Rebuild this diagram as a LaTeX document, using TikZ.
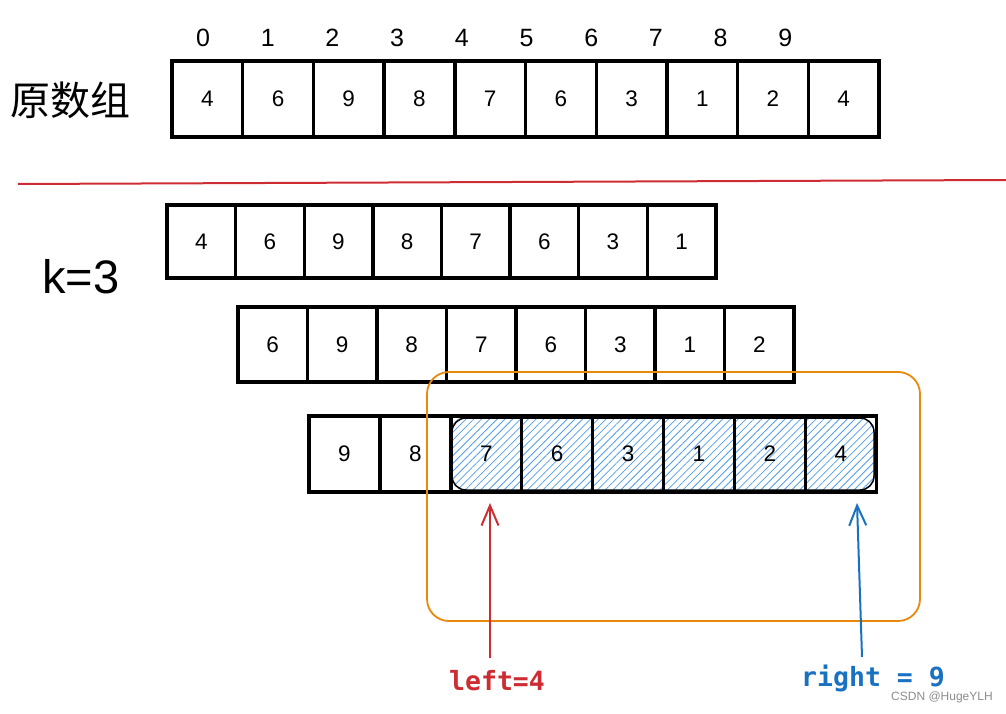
\documentclass[tikz,border=0pt]{standalone}
\usepackage{fontspec}
\setmainfont{Liberation Sans}
\newfontfamily\cjk{Noto Sans CJK SC}
\newfontfamily\monofont{DejaVu Sans Mono}
\usetikzlibrary{arrows.meta,patterns.meta}
\definecolor{redline}{RGB}{205,45,50}
\definecolor{orangebox}{RGB}{232,137,12}
\definecolor{blueptr}{RGB}{25,113,194}
\definecolor{hatchblue}{RGB}{80,158,232}
\definecolor{redptr}{RGB}{205,45,50}
\tikzset{
  cell/.style={draw=black, line width=3.4pt, inner sep=0pt, font=\fontsize{22.5}{22.5}\selectfont},
  idxlbl/.style={inner sep=0pt, font=\fontsize{25}{25}\selectfont},
  window/.style={draw=orangebox, line width=1.8pt, rounded corners=22pt, inner sep=0pt},
  ptr/.style={line width=2pt, -{Straight Barb[length=20pt,width=17pt,line width=2pt]}},
  ptrlbl/.style={inner sep=0pt, font=\monofont\bfseries\fontsize{26.5}{26.5}\selectfont},
}
\begin{document}
\begin{tikzpicture}[x=1pt,y=-1pt]
\useasboundingbox (0,0) rectangle (1006,714);
% title texts
\node[inner sep=0pt, font=\cjk\fontsize{40}{40}\selectfont] (title) at (70,100) {原数组};
\node[inner sep=0pt, font=\fontsize{47}{47}\selectfont] (klbl) at (81,277) {k=3};
% index labels
\foreach \i in {0,...,9} \node[idxlbl] (idx\i) at ({203+64.7*\i},38) {\i};
% original array
\foreach \v [count=\i from 0] in {4,6,9,8,7,6,3,1,2,4}
  \node[cell, minimum width=70.7pt, minimum height=76pt] (a\i) at ({207.35+70.7*\i},99) {\v};
% separator
\coordinate (sepL) at (18,184);
\coordinate (sepR) at (1006,180);
\draw[redline, line width=2pt] (sepL) -- (sepR);
% row B
\foreach \v [count=\i from 0] in {4,6,9,8,7,6,3,1}
  \node[cell, minimum width=68.6pt, minimum height=73pt] (b\i) at ({201.3+68.6*\i},241.5) {\v};
% row C
\foreach \v [count=\i from 0] in {6,9,8,7,6,3,1,2}
  \node[cell, minimum width=69.5pt, minimum height=75pt] (c\i) at ({272.75+69.5*\i},344.5) {\v};
% row D hatch
\fill[pattern={Lines[angle=45,distance=5.5pt,line width=0.8pt]}, pattern color=hatchblue, rounded corners=14pt]
  (451,417) rectangle (875,491);
\draw[black, line width=1.5pt, rounded corners=14pt] (452,418) rectangle (874,490);
% row D
\foreach \v [count=\i from 0] in {9,8,7,6,3,1,2,4}
  \node[cell, minimum width=70.9pt, minimum height=76pt] (d\i) at ({344.45+70.9*\i},454) {\v};
% window
\node[window, minimum width=493pt, minimum height=249pt] (win) at (673.5,496.5) {};
% pointers
\node[ptrlbl, text=redptr, anchor=base] (leftlbl) at (497,690) {left=4};
\node[ptrlbl, text=blueptr, anchor=base] (rightlbl) at (873,686) {right = 9};
\coordinate (ltail) at (490,658);
\coordinate (ltip) at (490,503);
\coordinate (rtail) at (862,657);
\coordinate (rtip) at (857,503);
\draw[ptr, redptr] (ltail) -- (ltip);
\draw[ptr, blueptr] (rtail) -- (rtip);
% watermark
\node[inner sep=0pt, text=black!45, font=\fontsize{12}{12}\selectfont] (wm) at (942,697) {CSDN @HugeYLH};
\end{tikzpicture}
\end{document}
